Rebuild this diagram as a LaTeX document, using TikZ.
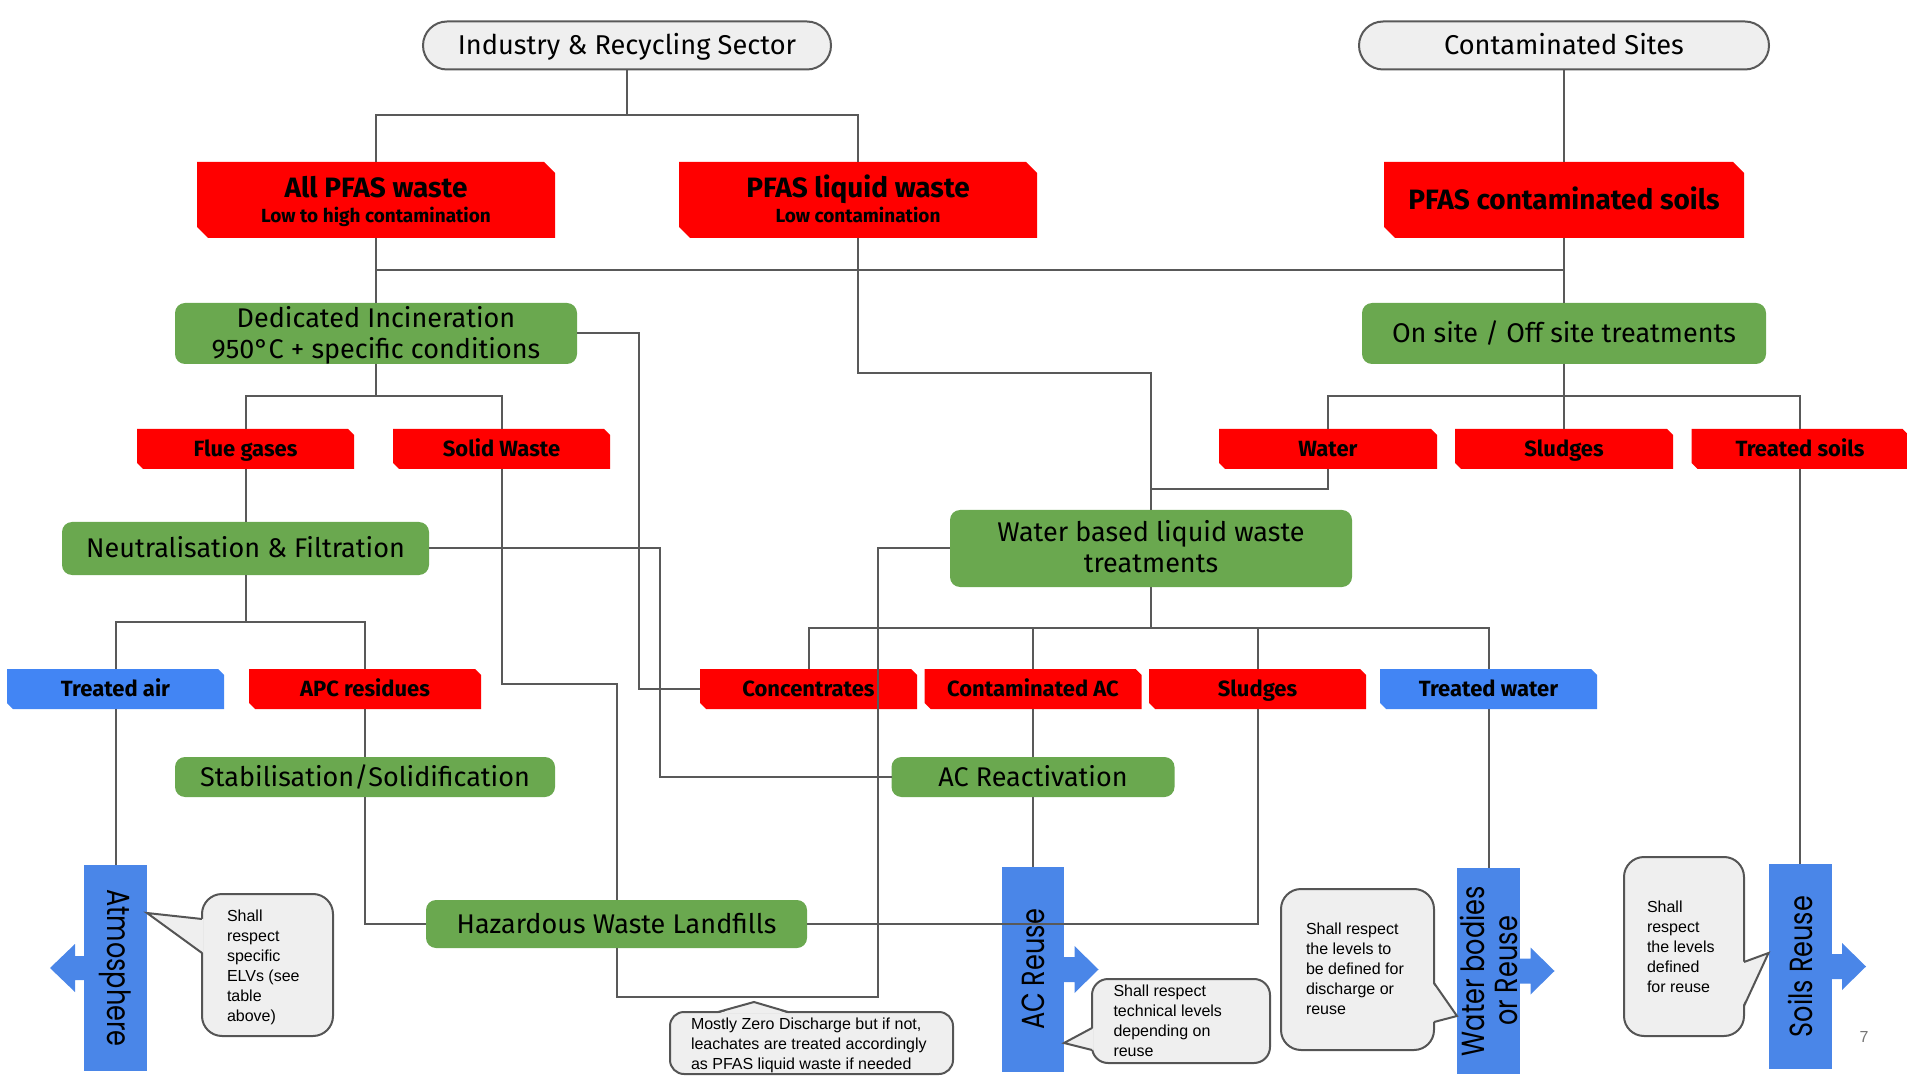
\documentclass[tikz,border=0pt]{standalone}
\usepackage{fontspec}
\setmainfont{Fira Sans}
\newfontfamily\notefont{Liberation Sans}
\newfontfamily\geofont{Poppins}[FakeStretch=0.8]
\usetikzlibrary{calc}
\definecolor{pred}{HTML}{FF0000}
\definecolor{pgreen}{HTML}{6AA84F}
\definecolor{pblue}{HTML}{4285F4}
\definecolor{tblue}{HTML}{4A86E8}
\definecolor{boxgray}{HTML}{EFEFEF}
\definecolor{linegray}{HTML}{595959}
\definecolor{notegray}{HTML}{555555}
\definecolor{pagegray}{HTML}{757575}
\newcommand\arrowR[1]{\fill[tblue] (#1.east) ++(0,-12.5) -- ++(10.5,0) -- ++(0,-11) -- ++(24,23.5) -- ++(-24,23.5) -- ++(0,-11) -- ++(-10.5,0) -- cycle;}
\newcommand\lineA[2]{\rule{0pt}{#1}\smash{#2}}
\newcommand\lineB[1]{\smash{#1}\rule[-0.5pt]{0pt}{0.5pt}}
\tikzset{
  every node/.style={inner sep=0pt, outer sep=0pt},
  sz/.style 2 args={minimum width=#1*0.5pt, minimum height=#2*0.5pt},
  wire/.style={draw=linegray, line width=1pt},
  topbox/.style={draw=linegray, line width=1pt, fill=boxgray, rounded corners=12pt, font=\fontsize{13.6}{15}\selectfont, text height=9.4pt, text depth=0pt},
  snipfill/.style 2 args={fill=white, path picture={\fill[#1] (path picture bounding box.north west) -- ([xshift=-#2]path picture bounding box.north east) -- ([yshift=-#2]path picture bounding box.north east) -- (path picture bounding box.south east) -- ([xshift=#2]path picture bounding box.south west) -- ([yshift=#2]path picture bounding box.south west) -- cycle;}},
  redbig/.style={snipfill={pred}{5.5pt}, align=center, font=\bfseries\fontsize{14}{15}\selectfont},
  redsmall/.style={snipfill={pred}{3pt}, font=\bfseries\fontsize{11}{12}\selectfont, text height=7.6pt, text depth=0pt},
  bluesmall/.style={snipfill={pblue}{3pt}, font=\bfseries\fontsize{11}{12}\selectfont, text height=7.6pt, text depth=0pt},
  greenbox/.style={fill=pgreen, rounded corners=5pt, align=center, font=\fontsize{13.5}{16}\selectfont},
  greenone/.style={greenbox, text height=9.3pt, text depth=0pt},
  tallbox/.style={fill=tblue},
  geo/.style={font=\geofont\fontsize{16}{16.5}\selectfont, align=center},
  note/.style={anchor=north west, align=left, font=\notefont\fontsize{8}{10}\selectfont},
  notebox/.style={draw=notegray, line width=1pt, fill=boxgray},
}
\begin{document}
\begin{tikzpicture}[x=0.5pt,y=-0.5pt]
\useasboundingbox (0,0) rectangle (1907,1080);
% top boxes
\node[topbox, sz={408}{48}] (ind) at (627,45.5) {Industry \& Recycling Sector};
\node[topbox, sz={410}{48}] (sites) at (1564,45.5) {Contaminated Sites};
% red big
\node[redbig, sz={358}{76}] (allpfas) at (376,200) {\lineA{11pt}{All PFAS waste}\\[-2.5pt]{\fontsize{9.5}{11}\selectfont\lineB{Low to high contamination}}};
\node[redbig, sz={358}{76}] (liquid) at (858,200) {\lineA{11pt}{PFAS liquid waste}\\[-2.5pt]{\fontsize{9.5}{11}\selectfont\lineB{Low contamination}}};
\node[redbig, sz={360}{76}, text height=9.65pt, text depth=0pt] (soils) at (1564,200) {PFAS contaminated soils};
% green
\node[greenbox, sz={402}{61}] (incin) at (376,333.5) {\lineA{10.5pt}{Dedicated Incineration}\\[-0.5pt]\lineB{950°C + specific conditions}};
\node[greenone, sz={404}{61}] (onsite) at (1564,333.5) {On site / Off site treatments};
% red small row 1
\node[redsmall, sz={217}{40}] (flue) at (245.5,449) {Flue gases};
\node[redsmall, sz={217}{40}] (solid) at (501.5,449) {Solid Waste};
\node[redsmall, sz={218}{40}] (water) at (1328,449) {Water};
\node[redsmall, sz={218}{40}] (sludgeA) at (1564,449) {Sludges};
\node[redsmall, sz={217}{40}] (tsoils) at (1800,449) {Treated soils};
% green row
\node[greenone, sz={367}{53}] (neut) at (245.5,548.5) {Neutralisation \& Filtration};
\node[greenbox, sz={402}{77}] (wbased) at (1151,548.5) {\lineA{9.5pt}{Water based liquid waste}\\[-0.5pt]\lineB{treatments}};
% row 2
\node[bluesmall, sz={217}{40}] (tair) at (115.5,689) {Treated air};
\node[redsmall, sz={232}{40}] (apc) at (365,689) {APC residues};
\node[redsmall, sz={217}{40}] (conc) at (808.5,689) {Concentrates};
\node[redsmall, sz={217}{40}] (cac) at (1033,689) {Contaminated AC};
\node[redsmall, sz={217}{40}] (sludgeB) at (1257.5,689) {Sludges};
\node[bluesmall, sz={217}{40}] (twater) at (1488.5,689) {Treated water};
% green row 3
\node[greenone, sz={380}{40}] (stab) at (365,777) {Stabilisation/Solidification};
\node[greenone, sz={283}{40}] (acreact) at (1033,777) {AC Reactivation};
\node[greenone, sz={381}{48}] (landfill) at (616.5,924) {Hazardous Waste Landfills};
% tall blue
\node[tallbox, sz={63}{206}] (atm) at (115.5,968) {};
\node[geo, rotate=-90] (atmtxt) at (atm.center) {Atmosphere};
\node[tallbox, sz={62}{205}] (acreuse) at (1033,969.5) {};
\node[geo, rotate=90] (acreusetxt) at (acreuse.center) {AC Reuse};
\node[tallbox, sz={63}{206}] (wbodies) at (1488.5,971) {};
\node[geo, rotate=90] (wbodiestxt) at (wbodies.center) {Water bodies\\or Reuse};
\node[tallbox, sz={63}{205}] (sreuse) at (1800,966.5) {};
\node[geo, rotate=90] (sreusetxt) at (sreuse.center) {Soils Reuse};
% arrows
\fill[tblue] (atm.west) ++(0,-12) -- ++(-9,0) -- ++(0,-12) -- ++(-25,24) -- ++(25,24) -- ++(0,-12) -- ++(9,0) -- cycle;
\arrowR{acreuse}
\arrowR{wbodies}
\arrowR{sreuse}
% connectors
\draw[wire] (ind.south) -- ++(0,46) -| (allpfas.north);
\draw[wire] (ind.south) -- ++(0,46) -| (liquid.north);
\draw[wire] (sites.south) -- (soils.north);
\draw[wire] (allpfas.south) -- (incin.north);
\draw[wire] (soils.south) -- ++(0,32) -| (incin.north);
\draw[wire] (soils.south) -- (onsite.north);
\draw[wire] (liquid.south) -- ++(0,135) -| (wbased.north);
\draw[wire] (water.south) -- ++(0,20) -| (wbased.north);
\draw[wire] (incin.east) -- ++(62,0) |- (conc.west);
\draw[wire] (incin.south) -- ++(0,32) -| (flue.north);
\draw[wire] (incin.south) -- ++(0,32) -| (solid.north);
\draw[wire] (onsite.south) -- ++(0,32) -| (water.north);
\draw[wire] (onsite.south) -- (sludgeA.north);
\draw[wire] (onsite.south) -- ++(0,32) -| (tsoils.north);
\draw[wire] (flue.south) -- (neut.north);
\draw[wire] (solid.south) -- ++(0,215) -| (landfill.north);
\draw[wire] (neut.east) -- ++(231,0) |- (acreact.west);
\draw[wire] (neut.south) -- ++(0,47) -| (tair.north);
\draw[wire] (neut.south) -- ++(0,47) -| (apc.north);
\draw[wire] (wbased.south) -- ++(0,41) -| (conc.north);
\draw[wire] (wbased.south) -- ++(0,41) -| (cac.north);
\draw[wire] (wbased.south) -- ++(0,41) -| (sludgeB.north);
\draw[wire] (wbased.south) -- ++(0,41) -| (twater.north);
\draw[wire] (tair.south) -- (atm.north);
\draw[wire] (apc.south) -- (stab.north);
\draw[wire] (stab.south) |- (landfill.west);
\draw[wire] (landfill.east) -| (sludgeB.south);
\draw[wire] (landfill.south) -- ++(0,49) -| ([xshift=-36pt]wbased.west) -- (wbased.west);
\draw[wire] (cac.south) -- (acreact.north);
\draw[wire] (acreact.south) -- (acreuse.north);
\draw[wire] (twater.south) -- (wbodies.north);
\draw[wire] (tsoils.south) -- (sreuse.north);
% callouts
\coordinate (tipA) at ($(atm.north east)+(0,48)$);
\draw[notebox, rounded corners=10pt] (202,894) rectangle (333,1036);
\fill[boxgray] (203.5,919) -- (tipA) -- (203.5,953) -- cycle;
\draw[notegray, line width=1pt] (202,919) -- (tipA) -- (202,953);
\node[note] (noteA) at (227,910) {Shall\\respect\\specific\\ELVs (see\\table\\above)};

\coordinate (tipB) at (754,1002);
\draw[notebox, rounded corners=7pt] (670,1012) rectangle (953,1074);
\fill[boxgray] (718,1013.5) -- (tipB) -- (788,1013.5) -- cycle;
\draw[notegray, line width=1pt] (718,1012) -- (tipB) -- (788,1012);
\node[note] (noteB) at (691,1018) {Mostly Zero Discharge but if not,\\leachates are treated accordingly\\as PFAS liquid waste if needed};

\coordinate (tipC) at ($(acreuse.south east)+(0,-29)$);
\draw[notebox, rounded corners=8pt] (1092,979) rectangle (1270,1063);
\fill[boxgray] (1093.5,1028) -- (tipC) -- (1093.5,1050) -- cycle;
\draw[notegray, line width=1pt] (1092,1028) -- (tipC) -- (1092,1050);
\node[note] (noteC) at (1113.5,985) {Shall respect\\technical levels\\depending on\\reuse};

\coordinate (tipD) at ($(wbodies.south west)+(0,-58)$);
\draw[notebox, rounded corners=10pt] (1281,889) rectangle (1434,1050);
\fill[boxgray] (1432.5,983) -- (tipD) -- (1432.5,1022) -- cycle;
\draw[notegray, line width=1pt] (1434,983) -- (tipD) -- (1434,1022);
\node[note] (noteD) at (1306,923) {Shall respect\\the levels to\\be defined for\\discharge or\\reuse};

\coordinate (tipE) at ($(sreuse.west)+(0,-13.5)$);
\draw[notebox, rounded corners=10pt] (1624,857) rectangle (1744,1036);
\fill[boxgray] (1742.5,962) -- (tipE) -- (1742.5,1006) -- cycle;
\draw[notegray, line width=1pt] (1744,962) -- (tipE) -- (1744,1006);
\node[note] (noteE) at (1647,901) {Shall\\respect\\the levels\\defined\\for reuse};

\node[font=\notefont\fontsize{8}{10}\selectfont, text=pagegray] (pg) at (1864,1037) {7};
\end{tikzpicture}
\end{document}
